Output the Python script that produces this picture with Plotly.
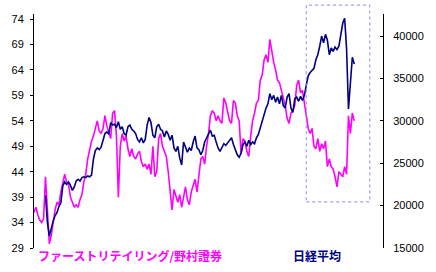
import plotly.graph_objects as go

# Fast Retailing / Nomura Securities ratio (left axis), sampled ~every 10 days
ratio = [36.0, 37.0, 35.5, 34.5, 34.0, 34.8, 43.0, 35.0, 29.8, 31.5,
         34.0, 36.5, 38.0, 37.5, 40.0, 42.0, 43.5, 42.0, 41.5, 39.0,
         38.0, 37.0, 37.5, 37.0, 38.5, 39.5, 42.0, 43.5, 46.5, 48.5,
         50.0, 51.0, 52.5, 54.0, 52.0, 51.5, 52.5, 55.0, 53.0, 51.5,
         50.5, 55.5, 56.0, 51.0, 39.0, 49.0, 51.5, 50.0, 51.0, 48.5,
         47.0, 48.5, 47.0, 46.5, 47.5, 48.0, 46.0, 45.0, 45.5, 44.5,
         45.5, 43.5, 49.0, 43.0, 44.0, 50.5, 51.5, 49.0, 48.0, 47.0,
         44.0, 40.0, 36.5, 40.5, 39.0, 38.0, 39.5, 37.0, 39.0, 41.0,
         38.5, 37.5, 40.0, 41.5, 42.5, 40.0, 44.0, 46.5, 47.0, 45.5,
         49.0, 51.5, 55.0, 56.0, 55.5, 54.0, 55.0, 54.0, 53.5, 58.5,
         57.5, 56.0, 54.0, 53.5, 58.0, 57.5, 55.0, 54.0, 47.5, 50.5,
         50.0, 48.0, 47.0, 51.0, 54.0, 55.5, 57.5, 58.0, 62.0, 63.0,
         66.0, 67.0, 65.5, 70.0, 67.5, 65.5, 64.0, 62.0, 61.5, 60.0,
         58.5, 57.0, 54.5, 53.5, 55.5, 56.0, 57.0, 61.0, 62.0, 59.5,
         60.0, 57.0, 55.0, 52.5, 51.5, 52.5, 49.0, 48.5, 50.5, 48.0,
         49.5, 48.5, 50.0, 45.0, 46.5, 45.0, 44.5, 43.0, 41.0, 44.0,
         43.5, 43.0, 45.0, 43.5, 55.0, 51.5, 55.5, 54.0]

# Nikkei average (right axis)
nikkei = [None, None, None, None, None, None,
          21200, 18000, 16400, 17500, 18200, 18800, 19200, 19900, 20300, 22300,
          22800, 22500, 22800, 22400, 21800, 22200, 22900, 23100, 22900, 23300,
          23400, 23300, 23500, 23400, 23600, 25500, 26500, 26800, 26600, 26900,
          27800, 28500, 28700, 28400, 29800, 29500, 29600, 29200, 29900, 29000,
          29300, 28500, 28300, 29300, 29500, 29000, 28800, 28500, 27800, 27500,
          28000, 27400, 27800, 29500, 30400, 29800, 28300, 28000, 29300, 29600,
          29000, 28800, 28100, 28800, 28400, 27700, 28300, 26800, 26400, 27000,
          25600, 24800, 27500, 27000, 26300, 26800, 26500, 27500, 28200, 26800,
          26600, 26000, 26500, 27500, 28000, 28600, 28900, 28200, 28300, 27500,
          26800, 26400, 26900, 27300, 27100, 27400, 27800, 28000, 27200, 26500,
          26000, 25700, 26200, 27200, 27500, 27000, 27700, 27200, 27500, 27300,
          28000, 28400, 29200, 30000, 30500, 31500, 32000, 33200, 32500, 33000,
          32200, 32800, 32000, 33000, 31800, 31500, 32800, 33200, 31500, 31000,
          32600, 32800, 32300, 32900, 32400, 33000, 34200, 35300, 35700, 36000,
          36200, 37200, 37800, 38800, 40000, 39200, 40200, 39500, 37800, 38600,
          38200, 38700, 38400, 38800, 40000, 41500, 42100, 38500, 31400, 34500,
          37500, 36700]

left_ticks = [29, 34, 39, 44, 49, 54, 59, 64, 69, 74]
right_ticks = [15000, 20000, 25000, 30000, 35000, 40000]
label_ratio = "ファーストリテイリング/野村證券"
label_nikkei = "日経平均"

fig = go.Figure()
fig.add_trace(go.Scatter(y=ratio, mode="lines", line=dict(color="#FF00FF", width=1.6),
                         yaxis="y", showlegend=False, hoverinfo="skip"))
fig.add_trace(go.Scatter(y=nikkei, mode="lines", line=dict(color="#000080", width=1.6),
                         yaxis="y2", showlegend=False, hoverinfo="skip"))

fig.update_layout(
    width=436, height=272,
    margin=dict(l=27, r=45, t=14, b=24),
    paper_bgcolor="white", plot_bgcolor="white",
    xaxis=dict(range=[0, 182], visible=False, showgrid=False, zeroline=False),
    yaxis=dict(range=[29, 75], tickvals=left_ticks, ticks="outside", ticklen=3,
               tickcolor="black", showline=True, linecolor="black", linewidth=1,
               showgrid=False, zeroline=False, ticklabelstandoff=4,
               tickfont=dict(family="Liberation Sans, Arial", size=11, color="black")),
    yaxis2=dict(range=[15000, 42600], tickvals=right_ticks,
                ticktext=[str(v) for v in right_ticks],
                overlaying="y", side="right",
                ticks="inside", ticklen=3, tickcolor="black", showline=True,
                linecolor="black", linewidth=1, showgrid=False, zeroline=False,
                ticklabelstandoff=7,
                tickfont=dict(family="Liberation Sans, Arial", size=11, color="black")),
    shapes=[dict(type="rect", xref="paper", yref="paper", x0=0.780, x1=0.962,
                 y0=0.197, y1=1.038, line=dict(color="#8888FF", width=1, dash="dot"))],
    annotations=[
        dict(text="<b>" + label_ratio + "</b>", xref="paper", yref="paper", x=0.005, y=-0.03,
             xanchor="left", yanchor="middle", showarrow=False,
             font=dict(family="Noto Sans CJK JP", size=12, color="#FF00FF")),
        dict(text="<b>" + label_nikkei + "</b>", xref="paper", yref="paper", x=0.735, y=-0.03,
             xanchor="left", yanchor="middle", showarrow=False,
             font=dict(family="Noto Sans CJK JP", size=12, color="#000080")),
    ],
)

fig.write_html("out.html")
